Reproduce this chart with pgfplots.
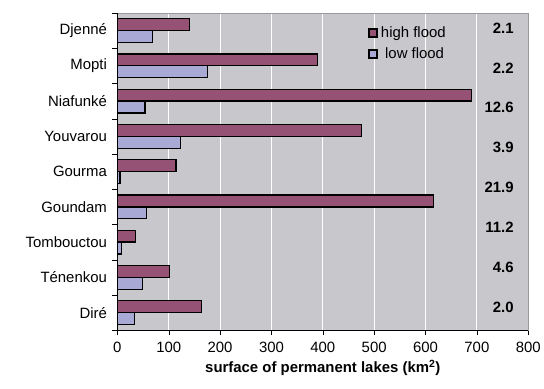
\documentclass[border=0pt]{standalone}
\usepackage{pgfplots}
\pgfplotsset{compat=1.18}
\usepackage{fontspec}
\setmainfont{Liberation Sans}
\definecolor{bg}{HTML}{C8C8CC}
\definecolor{hi}{HTML}{955274}
\definecolor{lo}{HTML}{A9A9D6}
\newcommand{\fs}{\fontsize{15}{17}\selectfont}
\begin{document}
\begin{tikzpicture}[font=\fs]
\begin{axis}[name=ax,
  scale only axis, width=413pt, height=319pt,
  xmin=0, xmax=800, ymin=-0.5, ymax=8.5, y dir=reverse,
  xbar, bar width=12pt,
  axis background/.style={fill=bg},
  axis line style={draw=gray!80},
  xtick={0,100,...,800},
  xmajorgrids, grid style={white, line width=1pt},
  ytick={0,...,8},
  yticklabels={Djenné,Mopti,Niafunké,Youvarou,Gourma,Goundam,Tombouctou,Ténenkou,Diré},
  minor ytick={-0.5,0.5,...,8.5},
  major tick length=5pt,
  minor tick length=5pt,
  tick style={draw=black},
  major y tick style={draw=none},
  tick align=outside,
  tick pos=left,
  /pgf/number format/assume math mode=true,
  ticklabel style={font=\fs},
  xticklabel style={yshift=-3pt},
  yticklabel style={xshift=-2pt},
  label style={font=\fs},
  xlabel={\bfseries surface of permanent lakes (km\textsuperscript{2})},
  xlabel style={yshift=-1pt},
  legend style={at={(rel axis cs:0.603,0.97)}, anchor=north west, draw=none, fill=none,
    row sep=5pt, font=\fs},
  legend cell align=left,
  legend image code/.code={\draw[#1, line width=1.5pt] (0pt,-4pt) rectangle (8pt,4pt);
    \path[draw=none, fill=none] (0pt,0pt) -- (10pt,0pt);},
  clip=false,
]
\draw[black, line width=0.8pt] (rel axis cs:0,0) -- (rel axis cs:1,0);
\draw[black, line width=0.8pt] (rel axis cs:0,0) -- (rel axis cs:0,1);
\addplot[fill=hi, draw=black, line width=1.3pt, bar shift=6pt] coordinates {
(140,0) (390,1) (690,2) (475,3) (114,4) (616,5) (35,6) (101,7) (164,8)};
\addplot[fill=lo, draw=black, line width=1.3pt, bar shift=-6pt] coordinates {
(68,0) (176,1) (54,2) (123,3) (5,4) (56,5) (8,6) (49,7) (34,8)};
\legend{high flood,\ low flood}
\node[anchor=east, font=\fs\bfseries] at (rel axis cs:0.973,0.953) {2.1};
\node[anchor=east, font=\fs\bfseries] at (rel axis cs:0.973,0.827) {2.2};
\node[anchor=east, font=\fs\bfseries] at (rel axis cs:0.973,0.702) {12.6};
\node[anchor=east, font=\fs\bfseries] at (rel axis cs:0.973,0.576) {3.9};
\node[anchor=east, font=\fs\bfseries] at (rel axis cs:0.973,0.450) {21.9};
\node[anchor=east, font=\fs\bfseries] at (rel axis cs:0.973,0.325) {11.2};
\node[anchor=east, font=\fs\bfseries] at (rel axis cs:0.973,0.199) {4.6};
\node[anchor=east, font=\fs\bfseries] at (rel axis cs:0.973,0.073) {2.0};
\end{axis}
\path ([xshift=-118pt,yshift=-59pt]ax.south west) rectangle ([xshift=13pt,yshift=13pt]ax.north east);
\end{tikzpicture}
\end{document}
